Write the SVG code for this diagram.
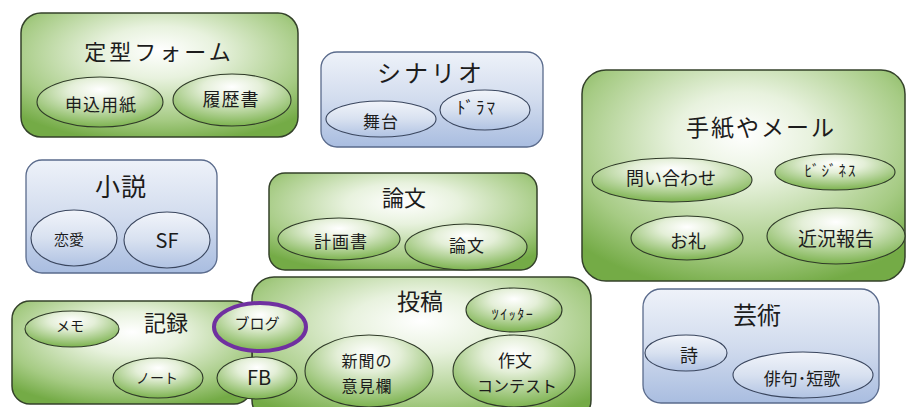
<svg xmlns="http://www.w3.org/2000/svg" width="907" height="407" viewBox="0 0 907 407">
<defs>
<radialGradient id="gBox" cx="50%" cy="35%" r="70%" fx="50%" fy="30%">
<stop offset="0" stop-color="#ffffff"/>
<stop offset="0.3" stop-color="#e8f2de"/>
<stop offset="0.75" stop-color="#a6cb84"/>
<stop offset="1" stop-color="#74ab46"/>
</radialGradient>
<radialGradient id="gEll" cx="50%" cy="30%" r="70%" fx="50%" fy="25%">
<stop offset="0" stop-color="#ffffff"/>
<stop offset="0.35" stop-color="#e4efd8"/>
<stop offset="1" stop-color="#7db350"/>
</radialGradient>
<linearGradient id="bBox" x1="0" y1="0" x2="0" y2="1">
<stop offset="0" stop-color="#eef2f9"/>
<stop offset="0.5" stop-color="#d2dcee"/>
<stop offset="1" stop-color="#a9bde0"/>
</linearGradient>
<linearGradient id="bEll" x1="0" y1="0" x2="0" y2="1">
<stop offset="0" stop-color="#f1f4fa"/>
<stop offset="0.5" stop-color="#d8e1f0"/>
<stop offset="1" stop-color="#b1c3e3"/>
</linearGradient>
</defs>
<style>
.gbox{fill:url(#gBox);stroke:#34422a;stroke-width:1.5}
.gell{fill:url(#gEll);stroke:#2f3a28;stroke-width:1.1}
.bbox{fill:url(#bBox);stroke:#5a6b8c;stroke-width:1.3}
.bell{fill:url(#bEll);stroke:#3a465e;stroke-width:1.1}
.hl{stroke:#7030a0;stroke-width:4}
text{font-family:"Noto Sans CJK JP","Noto Sans",sans-serif;fill:#1c1c1c;text-anchor:middle}
.t1{font-size:22px}
.t2{font-size:17px}
.t3{font-size:15px}
</style>
<rect width="907" height="407" fill="#ffffff"/>

<g id="teikei">
<rect class="gbox" x="21" y="13" width="277" height="124" rx="20"/>
<text class="t1" x="159" y="60" style="letter-spacing:3px">定型フォーム</text>
<ellipse class="gell" cx="100" cy="102" rx="63" ry="25"/>
<text class="t2" x="101" y="111" style="letter-spacing:1px">申込用紙</text>
<ellipse class="gell" cx="232" cy="100" rx="59" ry="26"/>
<text class="t2" x="231" y="106" style="font-size:18px;letter-spacing:1px">履歴書</text>
</g>

<g id="scenario">
<rect class="bbox" x="321" y="52" width="222" height="95" rx="16"/>
<text class="t1" x="431" y="82" style="font-size:24px;letter-spacing:3px">シナリオ</text>
<ellipse class="bell" cx="381" cy="119" rx="55" ry="18"/>
<text class="t2" x="381" y="128" style="letter-spacing:1px">舞台</text>
<ellipse class="bell" cx="485" cy="110" rx="45" ry="20"/>
<text class="t2" x="477" y="114" style="letter-spacing:2px">ﾄﾞﾗﾏ</text>
</g>

<g id="tegami">
<rect class="gbox" x="582" y="70" width="323" height="211" rx="24"/>
<text class="t1" x="761" y="136" style="font-size:23px;letter-spacing:2px">手紙やメール</text>
<ellipse class="gell" cx="672" cy="180" rx="80" ry="22"/>
<text class="t2" x="671" y="185" style="font-size:18px">問い合わせ</text>
<ellipse class="gell" cx="835" cy="172" rx="60" ry="18"/>
<text class="t3" x="831" y="176" style="letter-spacing:2px">ﾋﾞｼﾞﾈｽ</text>
<ellipse class="gell" cx="687" cy="238" rx="56" ry="22"/>
<text class="t2" x="688" y="248" style="font-size:18px">お礼</text>
<ellipse class="gell" cx="836" cy="236" rx="69" ry="28"/>
<text class="t2" x="836" y="246" style="font-size:19px">近況報告</text>
</g>

<g id="shousetsu">
<rect class="bbox" x="26" y="160" width="191" height="113" rx="16"/>
<text class="t1" x="121" y="196" style="font-size:25px;letter-spacing:1px">小説</text>
<ellipse class="bell" cx="74" cy="238" rx="43" ry="28"/>
<text class="t3" x="69" y="245">恋愛</text>
<ellipse class="bell" cx="167" cy="240" rx="43" ry="28"/>
<text class="t1" x="167" y="248" style="font-size:20px">SF</text>
</g>

<g id="ronbun">
<rect class="gbox" x="269" y="173" width="268" height="97" rx="16"/>
<text class="t1" x="404" y="206">論文</text>
<ellipse class="gell" cx="339" cy="239" rx="61" ry="21"/>
<text class="t2" x="341" y="248" style="letter-spacing:1px">計画書</text>
<ellipse class="gell" cx="466" cy="247" rx="61" ry="23"/>
<text class="t2" x="467" y="252" style="letter-spacing:1px">論文</text>
</g>

<g id="toukou">
<rect class="gbox" x="252" y="277" width="339" height="145" rx="22"/>
<text class="t1" x="420" y="310" style="font-size:23px">投稿</text>
<ellipse class="gell" cx="514" cy="310" rx="48" ry="22"/>
<text x="513" y="319" style="font-size:14px;letter-spacing:1.5px">ﾂｲｯﾀｰ</text>
<ellipse class="gell" cx="369" cy="371" rx="64" ry="36"/>
<text style="font-size:16px;letter-spacing:1px"><tspan x="367" y="367">新聞の</tspan><tspan x="367" y="392">意見欄</tspan></text>
<ellipse class="gell" cx="514" cy="371" rx="61" ry="36"/>
<text class="t2"><tspan x="515" y="367">作文</tspan><tspan x="517" y="392" style="font-size:16px">コンテスト</tspan></text>
</g>

<g id="kiroku">
<rect class="gbox" x="12" y="301" width="240" height="103" rx="18"/>
<text class="t1" x="166" y="331">記録</text>
<ellipse class="gell" cx="72" cy="329" rx="47" ry="18"/>
<text class="t3" x="70" y="331" style="font-size:14px">メモ</text>
<ellipse class="gell" cx="158" cy="378" rx="45" ry="20"/>
<text class="t3" x="157" y="383" style="font-size:14px">ノート</text>
<ellipse class="gell" cx="257" cy="378" rx="40" ry="21"/>
<text class="t1" x="259" y="385" style="font-size:20px">FB</text>
<ellipse class="gell hl" cx="260" cy="327" rx="46" ry="24"/>
<text class="t3" x="257" y="329">ブログ</text>
</g>

<g id="geijutsu">
<rect class="bbox" x="643" y="289" width="236" height="114" rx="18"/>
<text class="t1" x="757" y="324" style="font-size:24px">芸術</text>
<ellipse class="bell" cx="686" cy="353" rx="41" ry="18"/>
<text class="t2" x="689" y="362" style="font-size:18px">詩</text>
<ellipse class="bell" cx="803" cy="375" rx="70" ry="23"/>
<text class="t2" x="802" y="385">俳句･短歌</text>
</g>
</svg>
